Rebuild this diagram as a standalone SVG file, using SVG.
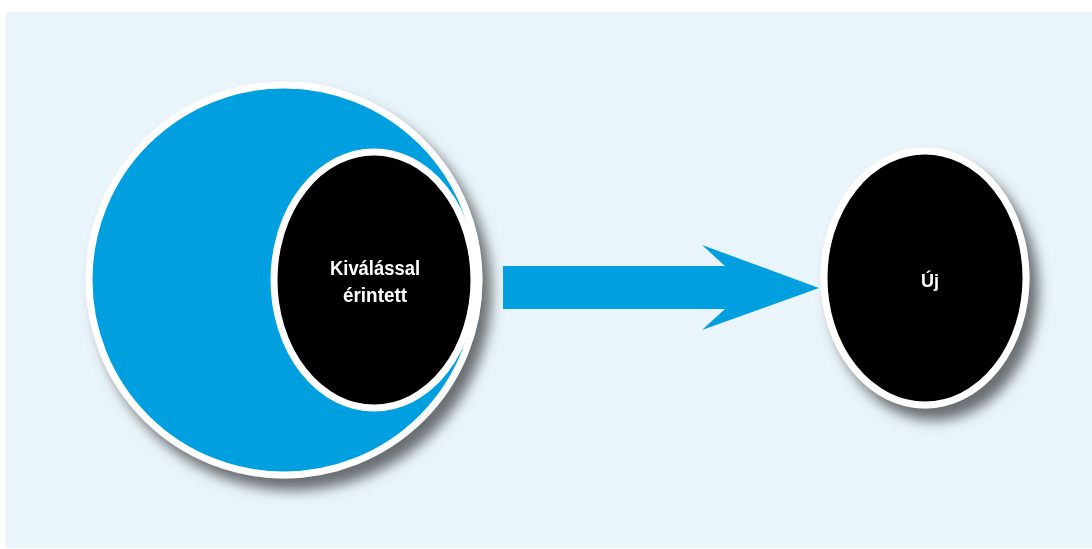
<svg xmlns="http://www.w3.org/2000/svg" width="1092" height="549" viewBox="0 0 1092 549">
  <style>
    .ring { stroke: #ffffff; stroke-width: 7; }
    .blue { fill: #009fe0; }
    .dark { fill: #000000; }
    .lbl { font-family: "Liberation Sans", Arial, sans-serif; font-weight: bold; fill: #ffffff; text-anchor: middle; }
  </style>
  <defs>
    <filter id="shadow" x="-20%" y="-20%" width="150%" height="150%">
      <feGaussianBlur in="SourceAlpha" stdDeviation="6.5" result="b"/>
      <feOffset in="b" dx="9" dy="12" result="o"/>
      <feFlood flood-color="#5a5f63" flood-opacity="0.9"/>
      <feComposite in2="o" operator="in" result="s"/>
      <feMerge>
        <feMergeNode in="s"/>
        <feMergeNode in="SourceGraphic"/>
      </feMerge>
    </filter>
  </defs>
  <rect x="0" y="0" width="1092" height="549" fill="#ffffff"/>
  <rect x="6" y="12" width="1086" height="536" fill="#eaf5fb"/>

  <g id="node-kivalassal" filter="url(#shadow)">
    <circle cx="284" cy="280" r="195" class="blue ring"/>
    <ellipse cx="374" cy="280" rx="100" ry="128" class="dark ring"/>
    <text class="lbl" font-size="20" x="375" y="275" textLength="90" lengthAdjust="spacingAndGlyphs">Kiválással</text>
    <text class="lbl" font-size="20" x="375" y="302" textLength="64" lengthAdjust="spacingAndGlyphs">érintett</text>
  </g>

  <g id="connectors">
    <polygon points="503,266 725,266 702,245 819,288 702,330 725,309 503,309" fill="#009fe0"/>
  </g>

  <g id="node-uj" filter="url(#shadow)">
    <ellipse cx="925" cy="278" rx="101" ry="127" class="dark ring"/>
    <text class="lbl" font-size="19" x="930" y="287" textLength="18" lengthAdjust="spacingAndGlyphs">Új</text>
  </g>
</svg>
